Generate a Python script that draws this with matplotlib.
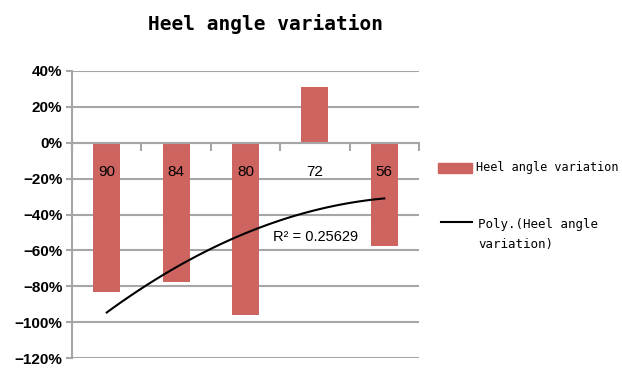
import matplotlib
matplotlib.use("Agg")
import numpy as np
import matplotlib.pyplot as plt
from matplotlib.patches import Rectangle
from matplotlib.lines import Line2D

# heel angle change per group, in percent
categories = ["90", "84", "80", "72", "56"]
variation = [-83, -77.6, -95.8, 31, -57.8]
r2_text = "R\u00b2 = 0.25629"

bar_color = "#CD6460"
grid_color = "#A6A6A6"

W, H = 622, 370
fig = plt.figure(figsize=(W / 100, H / 100), dpi=100)


def fx(px):
    return px / W


def fy(py):
    return 1 - py / H


ax = fig.add_axes([fx(72), fy(358), fx(419) - fx(72), fy(71) - fy(358)])

x = np.arange(1, len(categories) + 1)
ax.bar(x, variation, width=0.39, color=bar_color, zorder=2)

# second order polynomial trend line over the bars
coef = np.polyfit(x, variation, 2)
xs = np.linspace(1, len(categories), 100)
ax.plot(xs, np.polyval(coef, xs), color="black", lw=1.5, zorder=3)
ax.text(3.4, -52.4, r2_text, fontsize=10.5, family="Liberation Sans",
        ha="left", va="center", zorder=4)

ax.set_xlim(0.5, len(categories) + 0.5)
ax.set_ylim(-120, 40)
ax.set_yticks(np.arange(-120, 41, 20))
ax.set_yticklabels(["\u2212%d%%" % -v if v < 0 else "%d%%" % v
                    for v in range(-120, 41, 20)],
                   fontsize=11, fontweight="bold", family="Liberation Sans")
ax.yaxis.grid(True, color=grid_color, lw=1.5, zorder=0)
ax.tick_params(axis="y", length=4, width=1.5, color=grid_color, pad=3)

# category axis sits on the zero line
ax.spines["bottom"].set_position(("data", 0))
ax.spines["bottom"].set_color(grid_color)
ax.spines["bottom"].set_linewidth(1.5)
ax.spines["left"].set_color(grid_color)
ax.spines["left"].set_linewidth(1.5)
ax.spines["top"].set_visible(False)
ax.spines["right"].set_visible(False)
ax.set_xticks(np.arange(0.5, len(categories) + 1, 1))
ax.set_xticklabels([])
ax.tick_params(axis="x", length=6, width=1.5, color=grid_color)

# category names drawn over the bars
for xi, name in zip(x, categories):
    ax.annotate(name, xy=(xi, 0), xytext=(0, -29), textcoords="offset pixels",
                fontsize=11, family="Liberation Sans", ha="center", va="center",
                zorder=5)

fig.text(fx(265), fy(24), "Heel angle variation", family="DejaVu Sans Mono",
         fontweight="bold", fontsize=14, ha="center", va="center")

# legend
fig.patches.append(Rectangle((fx(438), fy(173)), fx(34), fy(163) - fy(173),
                             transform=fig.transFigure, color=bar_color))
fig.text(fx(476), fy(168), "Heel angle variation", family="DejaVu Sans Mono",
         fontsize=8.5, ha="left", va="center")
fig.lines.append(Line2D([fx(441), fx(472)], [fy(222), fy(222)],
                        transform=fig.transFigure, color="black", lw=1.5))
fig.text(fx(478), fy(235), "Poly.(Heel angle\nvariation)", family="DejaVu Sans Mono",
         fontsize=9, ha="left", va="center", linespacing=1.7)

fig.savefig("out.png", dpi=100)
